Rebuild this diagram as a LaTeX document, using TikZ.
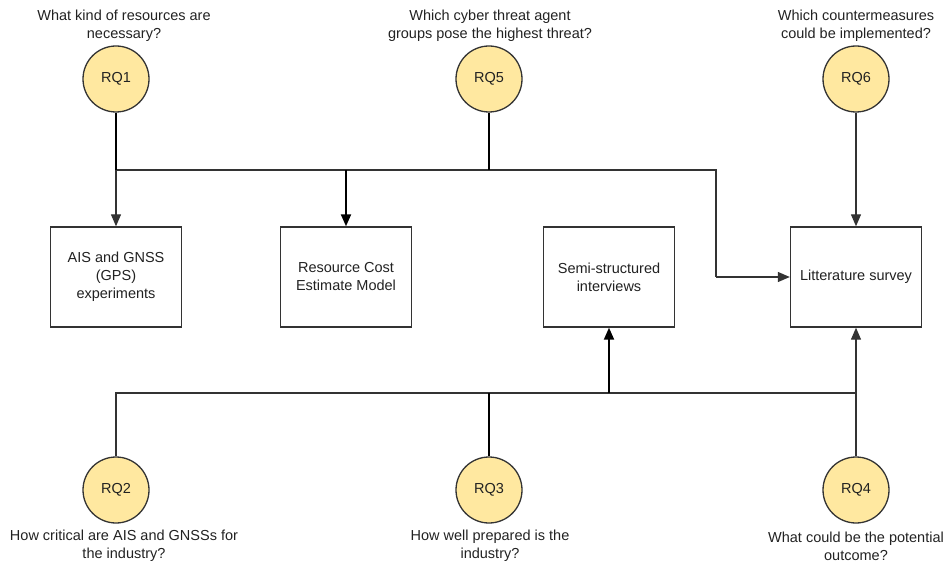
\documentclass[tikz,border=0pt]{standalone}
\usepackage{fontspec}
\setmainfont{Liberation Sans}
\usetikzlibrary{arrows.meta}
\definecolor{rqfill}{HTML}{FFE8A0}
\definecolor{edge}{HTML}{333333}
\definecolor{ink}{HTML}{222222}
\begin{document}
\begin{tikzpicture}[x=1pt,y=-1pt,
  every node/.style={font=\fontsize{14.5}{18}\selectfont, text=ink},
  rq/.style={circle, draw=edge, line width=1.3pt, fill=rqfill, minimum size=66pt, inner sep=0pt},
  method/.style={rectangle, draw=edge, line width=1.4pt, fill=white, minimum width=131pt, minimum height=100pt, align=center, inner sep=2pt},
  question/.style={align=center, inner sep=0pt},
  link/.style={draw=edge, line width=1.3pt},
  strong/.style={draw=black, line width=2pt},
  tip/.style={-{Triangle[length=12pt,width=10pt]}}
]
\useasboundingbox (0,0) rectangle (950,564);

% research questions
\node[rq] (rq1) at (116,79) {RQ1};
\node[rq] (rq5) at (489,79) {RQ5};
\node[rq] (rq6) at (856,79) {RQ6};
\node[rq] (rq2) at (116,490) {RQ2};
\node[rq] (rq3) at (489,490) {RQ3};
\node[rq] (rq4) at (856,490) {RQ4};

% question texts
\node[question] (q1) at (124,26) {What kind of resources are\\necessary?};
\node[question] (q5) at (490,26) {Which cyber threat agent\\groups pose the highest threat?};
\node[question] (q6) at (856,26) {Which countermeasures\\could be implemented?};
\node[question] (q2) at (124,546) {How critical are AIS and GNSSs for\\the industry?};
\node[question] (q3) at (490,546) {How well prepared is the\\industry?};
\node[question] (q4) at (856,546) {What could be the potential\\outcome?};

% methods
\node[method] (ais) at (116,277) {AIS and GNSS\\(GPS)\\experiments};
\node[method] (res) at (346,277) {Resource Cost\\Estimate Model};
\node[method] (semi) at (609,277) {Semi-structured\\interviews};
\node[method] (lit) at (856,277) {Litterature survey};

% junction points of the upper bus
\coordinate (t1) at (116,170);
\coordinate (t2) at (346,170);
\coordinate (t5) at (489,170);
\coordinate (tr) at (716,170);
\coordinate (tl) at (716,277);

% junction points of the lower bus
\coordinate (b2) at (116,393);
\coordinate (b3) at (489,393);
\coordinate (bs) at (609,393);
\coordinate (b4) at (856,393);

% upper connections
\draw[link] (t1) -- (tr) -- (tl);
\draw[link,tip] (tl) -- (lit.west);
\draw[link,tip] (t1) -- (ais.north);
\draw[strong] (rq1.south) -- (t1);
\draw[strong] (rq5.south) -- (t5);
\draw[strong,tip] (t2) -- (res.north);
\draw[link,tip] (rq6.south) -- (lit.north);

% lower connections
\draw[link] (rq2.north) -- (b2) -- (b4);
\draw[link,tip] (rq4.north) -- (lit.south);
\draw[strong] (rq3.north) -- (b3);
\draw[strong,tip] (bs) -- (semi.south);
\end{tikzpicture}
\end{document}
